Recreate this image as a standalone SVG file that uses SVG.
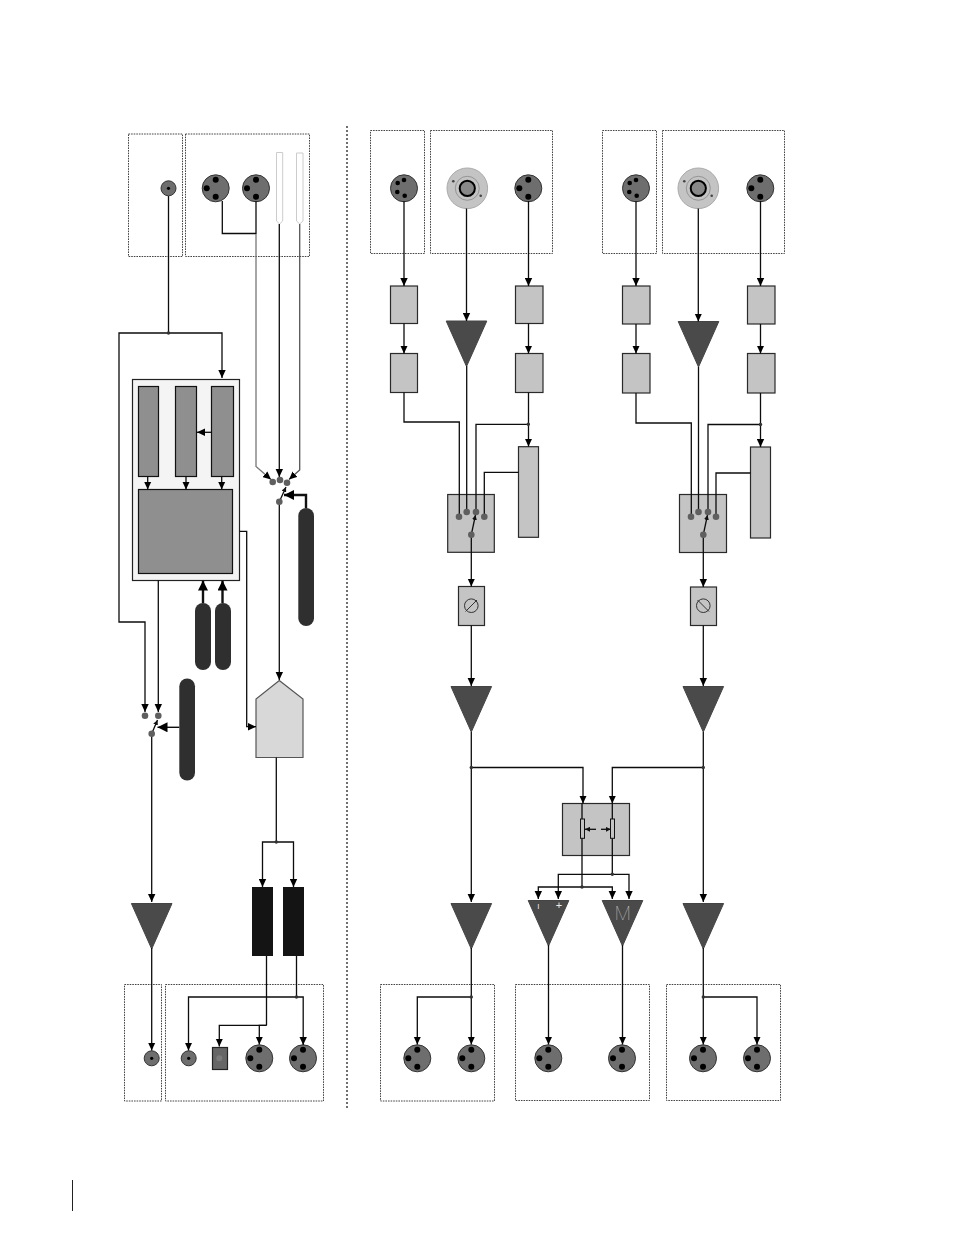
<svg xmlns="http://www.w3.org/2000/svg" width="954" height="1235" viewBox="0 0 954 1235">
<style>
.zone{fill:none;stroke:#444;stroke-width:1;stroke-dasharray:1.6 1}
.wire{fill:none;stroke:#0c0c0c;stroke-width:1.3}
.thick{fill:none;stroke:#111;stroke-width:2.4}
.box{fill:#c4c4c4;stroke:#2a2a2a;stroke-width:1.2}
.mid{fill:#8f8f8f;stroke:#111;stroke-width:1.2}
.amp{fill:#4a4a4a;stroke:#444;stroke-width:1}
.pill{fill:#2f2f2f}
.dot{fill:#5f5f5f}
.jn{fill:#333}
.shell{fill:#6e6e6e;stroke:#333;stroke-width:1}
.pin{fill:#000}
.sym{fill:#eee;opacity:.99;font-family:"Liberation Sans",sans-serif}
</style>
<defs>
<marker id="arr" markerUnits="userSpaceOnUse" markerWidth="9" markerHeight="8" refX="8" refY="4" orient="auto"><path d="M0 .3L8 4L0 7.7z" fill="#000"/></marker>
<marker id="arrS" markerUnits="userSpaceOnUse" markerWidth="6" markerHeight="5" refX="5" refY="2.5" orient="auto"><path d="M0 0L5 2.5L0 5z" fill="#111"/></marker>
<marker id="arrB" markerUnits="userSpaceOnUse" markerWidth="11" markerHeight="10" refX="10" refY="5" orient="auto"><path d="M0 0L10 5L0 10z" fill="#000"/></marker>
<g id="xlr3"><circle class="shell" r="13.5"/><circle class="pin" cy="-8.5" r="3"/><circle class="pin" cx="-9" r="3"/><circle class="pin" cy="8.5" r="3"/></g>
<g id="xlr4"><circle class="shell" r="13.5"/><circle class="pin" cy="-8.3" r="2.3"/><circle class="pin" cx="-6.3" cy="-5.3" r="2.3"/><circle class="pin" cx="-6.7" cy="3.7" r="2.3"/><circle class="pin" cx=".7" cy="7.4" r="2.3"/></g>
<g id="mini"><circle class="shell" r="7.5"/><circle class="pin" r="1.6"/></g>
<g id="speakon"><circle r="20.3" fill="#c4c4c4" stroke="#aaa"/><circle r="12" fill="none" stroke="#888" stroke-width=".8"/><circle r="7.6" fill="#888" stroke="#000" stroke-width="2"/><circle cx="-14" cy="-7" r="1.3" fill="#444"/><circle cx="13.4" cy="7.4" r="1.3" fill="#444"/></g>
<path id="tri" d="M-20.3 0H20.3L0 45.5z"/>
</defs>

<!-- panel outlines -->
<g id="zones">
<rect class="zone" x="128.5" y="134" width="54" height="122.5"/>
<rect class="zone" x="185.5" y="134" width="124" height="122.5"/>
<rect class="zone" x="370.5" y="130.5" width="54" height="123"/>
<rect class="zone" x="430.5" y="130.5" width="122" height="123"/>
<rect class="zone" x="602.5" y="130.5" width="54" height="123"/>
<rect class="zone" x="662.5" y="130.5" width="122" height="123"/>
<rect class="zone" x="124.5" y="984.5" width="37" height="116.5"/>
<rect class="zone" x="165.5" y="984.5" width="158" height="116.5"/>
<rect class="zone" x="380.5" y="984.5" width="114" height="116.5"/>
<rect class="zone" x="515.5" y="984.5" width="134" height="116"/>
<rect class="zone" x="666.5" y="984.5" width="114" height="116"/>
<line x1="347" y1="126" x2="347" y2="1108" stroke="#333" stroke-width="1.4" stroke-dasharray="2 2"/>
<line x1="72.5" y1="1180" x2="72.5" y2="1211" stroke="#222" stroke-width="1"/>
</g>

<!-- left signal path blocks -->
<g id="n-line-in"><use href="#mini" x="168.5" y="188.3"/></g>
<g id="n-xlr-a"><use href="#xlr3" x="215.7" y="188.3"/></g>
<g id="n-xlr-b"><use href="#xlr3" x="256" y="188.3"/></g>
<g id="n-probe-a"><path d="M276.5 152.5H282.7V221L279.6 224L276.5 221z" fill="#fff" stroke="#ccc"/></g>
<g id="n-probe-b"><path d="M296.5 153H303V221L299.7 224L296.5 221z" fill="#fff" stroke="#ccc"/></g>
<g id="n-fx-rack">
<rect x="132.5" y="379.5" width="107" height="201" fill="#f4f4f4" stroke="#222" stroke-width="1.2"/>
<rect class="mid" x="138.5" y="386.5" width="20" height="90"/>
<rect class="mid" x="175.5" y="386.5" width="21" height="90"/>
<rect class="mid" x="211.5" y="386.5" width="22" height="90"/>
<rect class="mid" x="138.5" y="489.5" width="94" height="84"/>
</g>
<g id="n-pill-a"><rect class="pill" x="298.3" y="508" width="15.7" height="118" rx="7.8"/></g>
<g id="n-pill-b"><rect class="pill" x="195" y="603" width="16" height="67" rx="8"/></g>
<g id="n-pill-c"><rect class="pill" x="215" y="603" width="16" height="67" rx="8"/></g>
<g id="n-pill-d"><rect class="pill" x="179.3" y="678.5" width="15.7" height="102" rx="7.8"/></g>
<g id="n-mixer"><path d="M279.3 680.5L303 699V757.5H256V699z" fill="#d8d8d8" stroke="#555" stroke-width="1.2"/></g>
<g id="n-out-a"><rect x="252" y="887" width="21" height="69" fill="#141414"/></g>
<g id="n-out-b"><rect x="283" y="887" width="21" height="69" fill="#141414"/></g>
<g id="n-amp-l"><use href="#tri" class="amp" x="151.7" y="903.5"/></g>
<g id="n-out-mini-a"><use href="#mini" x="151.7" y="1058.3"/></g>
<g id="n-out-mini-b"><use href="#mini" x="188.7" y="1058.3"/></g>
<g id="n-out-rect"><rect x="212.5" y="1047.5" width="15" height="22" fill="#666" stroke="#222" stroke-width="1.2"/><circle cx="219.3" cy="1058.3" r="3" fill="#7b7b7b"/></g>
<g id="n-out-xlr-a"><use href="#xlr3" x="259.3" y="1058.3"/></g>
<g id="n-out-xlr-b"><use href="#xlr3" x="303" y="1058.3"/></g>

<!-- channel one -->
<g id="n-c1-in4"><use href="#xlr4" x="404" y="188.3"/></g>
<g id="n-c1-spk"><use href="#speakon" x="467.3" y="188.3"/></g>
<g id="n-c1-in3"><use href="#xlr3" x="528.3" y="188.3"/></g>
<g id="n-c1-a"><rect class="box" x="390.5" y="286" width="27" height="37.5"/></g>
<g id="n-c1-b"><rect class="box" x="390.5" y="353.5" width="27" height="39"/></g>
<g id="n-c1-c"><rect class="box" x="515.5" y="286" width="27.5" height="37.5"/></g>
<g id="n-c1-d"><rect class="box" x="515.5" y="353.5" width="27.5" height="39"/></g>
<g id="n-c1-pre"><use href="#tri" class="amp" x="466.5" y="321"/></g>
<g id="n-c1-tall"><rect class="box" x="518.5" y="446.7" width="20" height="90.6"/></g>
<g id="n-c1-sel"><rect class="box" x="447.7" y="494.5" width="46.6" height="57.8"/></g>
<g id="n-c1-phase"><rect class="box" x="458.5" y="586.5" width="26" height="39"/><circle cx="471.3" cy="605.7" r="6.8" fill="none" stroke="#333"/><line x1="465.5" y1="611.5" x2="477" y2="600" stroke="#333"/></g>
<g id="n-c1-amp"><use href="#tri" class="amp" x="471.3" y="686.5"/></g>
<g id="n-c1-out"><use href="#tri" class="amp" x="471.3" y="903.5"/></g>

<!-- channel two -->
<g id="n-c2-in4"><use href="#xlr4" x="636" y="188.3"/></g>
<g id="n-c2-spk"><use href="#speakon" x="698.3" y="188.3"/></g>
<g id="n-c2-in3"><use href="#xlr3" x="760.3" y="188.3"/></g>
<g id="n-c2-a"><rect class="box" x="622.5" y="286" width="27.5" height="38"/></g>
<g id="n-c2-b"><rect class="box" x="622.5" y="353.5" width="27.5" height="39.5"/></g>
<g id="n-c2-c"><rect class="box" x="747.5" y="286" width="27.5" height="38"/></g>
<g id="n-c2-d"><rect class="box" x="747.5" y="353.5" width="27.5" height="39.5"/></g>
<g id="n-c2-pre"><use href="#tri" class="amp" x="698.5" y="321.5"/></g>
<g id="n-c2-tall"><rect class="box" x="750.5" y="447" width="20" height="91"/></g>
<g id="n-c2-sel"><rect class="box" x="679.5" y="494.5" width="47" height="58"/></g>
<g id="n-c2-phase"><rect class="box" x="690.5" y="587" width="26" height="38.5"/><circle cx="703.3" cy="605.7" r="6.8" fill="none" stroke="#333"/><line x1="697.5" y1="600" x2="709" y2="611.5" stroke="#333"/></g>
<g id="n-c2-amp"><use href="#tri" class="amp" x="703.3" y="686.5"/></g>
<g id="n-c2-out"><use href="#tri" class="amp" x="703.3" y="903.5"/></g>

<!-- bridge and monitor section -->
<g id="n-bridge"><rect class="box" x="562.5" y="803.5" width="67" height="52"/></g>
<g id="n-amp-sum"><use href="#tri" class="amp" x="548.5" y="900.5"/><text class="sym" x="538.3" y="908.5" font-size="8" text-anchor="middle">I</text><text class="sym" x="559" y="909" font-size="11" text-anchor="middle">+</text></g>
<g id="n-amp-mono"><use href="#tri" class="amp" x="622.5" y="900.5"/><text x="622.8" y="920" font-size="18.5" text-anchor="middle" fill="#dcdcdc" opacity=".99" font-weight="100" font-family="Inter,'Liberation Sans',sans-serif">M</text></g>
<g id="n-c1-x1"><use href="#xlr3" x="417.3" y="1058.3"/></g>
<g id="n-c1-x2"><use href="#xlr3" x="471.3" y="1058.3"/></g>
<g id="n-m-x1"><use href="#xlr3" x="548.3" y="1058.3"/></g>
<g id="n-m-x2"><use href="#xlr3" x="622" y="1058.3"/></g>
<g id="n-c2-x1"><use href="#xlr3" x="703" y="1058.3"/></g>
<g id="n-c2-x2"><use href="#xlr3" x="757" y="1058.3"/></g>

<g id="connectors">
<!-- left side wiring -->
<path class="wire" d="M168.5 196V333"/>
<path class="wire" marker-end="url(#arr)" d="M168.5 333H119V622H145V712"/>
<path class="wire" marker-end="url(#arr)" d="M168.5 333H222V378"/>
<path class="wire" d="M222.3 201V233.5H256"/>
<path class="wire" d="M256 201V234"/>
<path class="wire" style="stroke:#777" marker-end="url(#arr)" d="M256 234V466.5L271 479.5"/>
<path class="wire" marker-end="url(#arr)" d="M279.3 224V477"/>
<path class="wire" style="stroke:#555" marker-end="url(#arr)" d="M299.7 224V470L289 479.5"/>
<path class="wire" marker-end="url(#arrS)" d="M279.3 501.7L286 487"/>
<path class="wire" marker-end="url(#arr)" d="M279.3 502V680"/>
<path class="thick" marker-end="url(#arrB)" d="M306 508V495H284"/>
<path class="thick" marker-end="url(#arrB)" d="M203 603V580.5"/>
<path class="thick" marker-end="url(#arrB)" d="M222.5 603V580.5"/>
<path class="wire" marker-end="url(#arr)" d="M211.5 432.3H197"/>
<path class="wire" marker-end="url(#arr)" d="M147.7 476.5V489.5"/>
<path class="wire" marker-end="url(#arr)" d="M186 476.5V489.5"/>
<path class="wire" marker-end="url(#arr)" d="M221.7 476.5V489.5"/>
<path class="wire" marker-end="url(#arr)" d="M239.5 531.3H246.7V726.7H256"/>
<path class="wire" marker-end="url(#arr)" d="M158.3 580.5V712"/>
<path class="wire" marker-end="url(#arrS)" d="M151.7 733.7L157.5 720"/>
<path class="wire" marker-end="url(#arr)" d="M151.7 734V902"/>
<path class="wire" marker-end="url(#arrB)" style="stroke-width:1.4" d="M179.3 727.3H157.5"/>
<path class="wire" d="M276.3 757.5V842"/>
<path class="wire" marker-end="url(#arr)" d="M276.3 842H262.5V887"/>
<path class="wire" marker-end="url(#arr)" d="M276.3 842H293.5V887"/>
<path class="wire" d="M266.5 956V1025.3"/>
<path class="wire" marker-end="url(#arr)" d="M266.5 1025.3H219.3V1046.5"/>
<path class="wire" marker-end="url(#arr)" d="M266.5 1025.3H259.3V1044.5"/>
<path class="wire" d="M296.5 956V997"/>
<path class="wire" marker-end="url(#arr)" d="M296.5 997H188.5V1050.5"/>
<path class="wire" marker-end="url(#arr)" d="M296.5 997H303.2V1045"/>
<path class="wire" marker-end="url(#arr)" d="M151.7 948V1050.5"/>
<!-- channel one wiring -->
<path class="wire" marker-end="url(#arr)" d="M404 201V286"/>
<path class="wire" marker-end="url(#arr)" d="M404 323.5V353.5"/>
<path class="wire" marker-end="url(#arr)" d="M466.5 208.5V321"/>
<path class="wire" marker-end="url(#arr)" d="M528.5 201V286"/>
<path class="wire" marker-end="url(#arr)" d="M528.5 323.5V353.5"/>
<path class="wire" d="M404 392.5V422H459.3V516"/>
<path class="wire" d="M466.7 366V512"/>
<path class="wire" d="M476 512V424.3H528.3"/>
<path class="wire" marker-end="url(#arr)" d="M528.5 392.5V446.5"/>
<path class="wire" d="M518.5 472.3H484.3V516"/>
<path class="wire" marker-end="url(#arrS)" d="M471.3 534.7L475.5 515"/>
<path class="wire" marker-end="url(#arr)" d="M471.3 535V586.5"/>
<path class="wire" marker-end="url(#arr)" d="M471.3 625.5V686"/>
<path class="wire" marker-end="url(#arr)" d="M471.3 732V902"/>
<path class="wire" marker-end="url(#arr)" d="M471.3 767.5H583V803.5"/>
<path class="wire" marker-end="url(#arr)" d="M471.3 948V1044.5"/>
<path class="wire" marker-end="url(#arr)" d="M471.3 997H417.3V1044.5"/>
<!-- channel two wiring -->
<path class="wire" marker-end="url(#arr)" d="M636 201V286"/>
<path class="wire" marker-end="url(#arr)" d="M636 324V353.5"/>
<path class="wire" marker-end="url(#arr)" d="M698.3 208.5V321.5"/>
<path class="wire" marker-end="url(#arr)" d="M760.5 201V286"/>
<path class="wire" marker-end="url(#arr)" d="M760.5 324V353.5"/>
<path class="wire" d="M636 393V423H691.3V516"/>
<path class="wire" d="M698.5 367V512"/>
<path class="wire" d="M708 512V424.5H760.5"/>
<path class="wire" marker-end="url(#arr)" d="M760.5 393V447"/>
<path class="wire" d="M750.5 473H716V516"/>
<path class="wire" marker-end="url(#arrS)" d="M703.3 534.7L707.5 515"/>
<path class="wire" marker-end="url(#arr)" d="M703.3 535V587"/>
<path class="wire" marker-end="url(#arr)" d="M703.3 625.5V686"/>
<path class="wire" marker-end="url(#arr)" d="M703.3 732V902"/>
<path class="wire" marker-end="url(#arr)" d="M703.3 767.5H612.3V803.5"/>
<path class="wire" marker-end="url(#arr)" d="M703.3 948V1044.5"/>
<path class="wire" marker-end="url(#arr)" d="M703.3 997H757V1044.5"/>
<!-- bridge wiring -->
<path class="wire" d="M582 803.5V887"/>
<path class="wire" d="M612.3 803.5V874.3"/>
<path class="wire" marker-end="url(#arr)" d="M582 887H538.3V899"/>
<path class="wire" marker-end="url(#arr)" d="M582 887H612.3V899"/>
<path class="wire" marker-end="url(#arr)" d="M612.3 874.3H558.3V899"/>
<path class="wire" marker-end="url(#arr)" d="M612.3 874.3H629V899"/>
<path class="wire" marker-end="url(#arrS)" d="M596 829.3H585"/>
<path class="wire" marker-end="url(#arrS)" d="M601 829.3H610.7"/>
<rect x="580.5" y="819" width="4" height="19.3" fill="#c4c4c4" stroke="#111"/>
<rect x="610.5" y="819" width="4" height="19.3" fill="#c4c4c4" stroke="#111"/>
<path class="wire" marker-end="url(#arr)" d="M548.5 945V1044.5"/>
<path class="wire" marker-end="url(#arr)" d="M622.5 945V1044.5"/>
<!-- contact points and junctions -->
<g class="dot">
<circle cx="272.7" cy="482" r="3.3"/><circle cx="280" cy="480" r="3.3"/><circle cx="287" cy="482.7" r="3.3"/><circle cx="279.3" cy="501.7" r="3.3"/>
<circle cx="145" cy="715.7" r="3.3"/><circle cx="158.3" cy="715.7" r="3.3"/><circle cx="151.7" cy="733.7" r="3.3"/>
<circle cx="459" cy="516.7" r="3.3"/><circle cx="466.7" cy="512" r="3.3"/><circle cx="476" cy="512" r="3.3"/><circle cx="484.3" cy="516.7" r="3.3"/><circle cx="471.3" cy="534.7" r="3.3"/>
<circle cx="691" cy="516.7" r="3.3"/><circle cx="698.5" cy="512" r="3.3"/><circle cx="708" cy="512" r="3.3"/><circle cx="716" cy="516.7" r="3.3"/><circle cx="703.3" cy="534.7" r="3.3"/>
</g>
<g class="jn">
<circle cx="168.5" cy="333" r="1.7"/><circle cx="276.3" cy="842" r="1.7"/><circle cx="296.5" cy="997" r="1.7"/>
<circle cx="528.3" cy="424.3" r="1.7"/><circle cx="760.5" cy="424.5" r="1.7"/>
<circle cx="471.3" cy="767.5" r="1.7"/><circle cx="703.3" cy="767.5" r="1.7"/>
<circle cx="471.3" cy="997" r="1.7"/><circle cx="703.3" cy="997" r="1.7"/>
<circle cx="582" cy="887" r="1.7"/><circle cx="612.3" cy="874.3" r="1.7"/>
</g>
</g>
</svg>
